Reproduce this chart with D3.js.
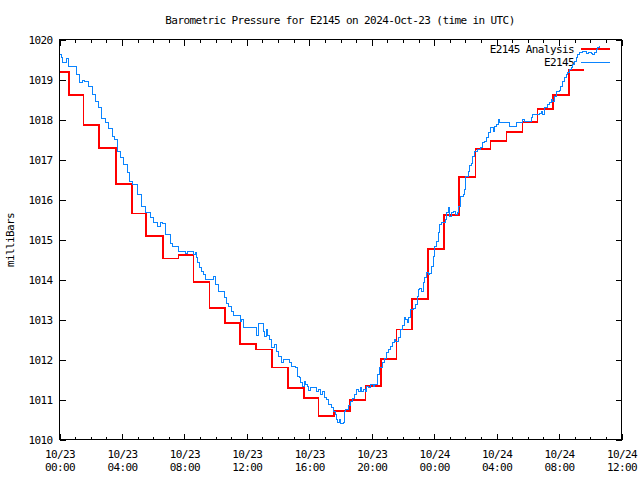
<!DOCTYPE html>
<html><head><meta charset="utf-8">
<script src="https://cdn.jsdelivr.net/npm/d3@7"></script>
<style>
html,body{margin:0;padding:0;background:#fff;}
text{font-family:"DejaVu Sans Mono",monospace;font-size:11px;letter-spacing:-0.6px;fill:#000;}
</style></head>
<body>
<svg id="chart" width="640" height="480"></svg>
<script>
// ---- data ----
const titleText = "Barometric Pressure for E2145 on 2024-Oct-23 (time in UTC)";
const yLabel = "milliBars";
const seriesNames = ["E2145 Analysis", "E2145"];
const yTicks = [1010,1011,1012,1013,1014,1015,1016,1017,1018,1019,1020];
const startTime = Date.UTC(2024, 9, 23, 0, 0);
const spanHours = 36;

// analysis (red step) : hours since start, value
const analysisHours = [0,0.59,1.53,2.54,3.60,4.65,5.54,6.63,7.63,8.59,9.61,10.60,11.55,12.58,13.60,14.64,15.65,16.58,17.60,18.59,19.59,20.61,21.58,22.59,23.61,24.64,25.60,26.64,27.60,28.63,29.65,30.61,31.61,32.63,33.59];
const analysisValues = [1019.19,1018.62,1017.87,1017.29,1016.39,1015.65,1015.09,1014.53,1014.62,1013.94,1013.29,1012.92,1012.39,1012.25,1011.80,1011.29,1011.04,1010.59,1010.72,1010.99,1011.34,1012.02,1012.75,1013.52,1014.77,1015.62,1016.57,1017.27,1017.47,1017.69,1017.94,1018.26,1018.62,1019.24,1019.24];

// observations (blue)
const obsHours = [0.03,0.10,0.21,0.35,0.43,0.55,0.95,1.10,1.25,1.30,1.45,1.60,1.88,2.09,2.30,2.51,2.69,2.94,3.15,3.37,3.54,3.69,3.90,4.11,4.33,4.48,4.65,4.97,5.24,5.50,5.82,6.03,6.25,6.46,6.61,6.82,7.10,7.27,7.63,8.06,8.18,8.48,8.60,8.70,8.76,8.84,8.97,9.12,9.23,9.34,9.76,9.87,9.97,10.19,10.40,10.55,10.68,10.83,11.00,11.14,11.46,11.57,11.68,11.78,12.53,12.64,12.74,12.96,13.06,13.13,13.24,13.32,13.45,13.60,13.75,13.87,14.02,14.19,14.34,14.56,14.73,14.88,15.09,15.26,15.36,15.45,15.56,15.68,15.77,15.87,15.98,16.11,16.37,16.48,16.58,16.69,16.75,16.86,16.96,17.12,17.26,17.44,17.54,17.65,17.76,17.82,17.92,18.03,18.18,18.24,18.33,18.50,18.63,18.78,18.88,19.03,19.14,19.25,19.35,19.46,19.57,19.68,19.78,19.95,20.10,20.20,20.38,20.52,20.67,20.80,20.95,21.10,21.23,21.31,21.44,21.55,21.74,21.87,21.95,22.07,22.19,22.29,22.38,22.51,22.65,22.81,22.91,22.97,23.08,23.19,23.30,23.40,23.51,23.61,23.72,23.83,23.93,24.04,24.15,24.25,24.32,24.47,24.64,24.72,24.79,24.89,25.00,25.11,25.21,25.36,25.47,25.58,25.66,25.85,25.92,26.02,26.17,26.28,26.39,26.45,26.60,26.77,26.98,27.07,27.24,27.35,27.45,27.60,27.72,27.79,27.88,27.99,28.09,28.20,28.73,28.84,29.16,29.27,29.58,29.69,29.80,30.12,30.23,30.33,30.54,30.76,30.86,30.97,31.07,31.29,31.39,31.50,31.60,31.71,31.82,32.03,32.10,32.24,32.35,32.46,32.56,32.67,32.78,32.88,32.99,33.10,33.20,33.31,33.42,33.52,33.69,33.78,33.91,34.06,34.16,34.27,34.38,34.48,34.59];
const obsValues = [1019.62,1019.54,1019.43,1019.43,1019.52,1019.32,1019.32,1019.12,1019.12,1018.93,1018.97,1018.95,1018.83,1018.62,1018.46,1018.29,1018.02,1017.92,1017.77,1017.58,1017.50,1017.21,1017.04,1016.88,1016.67,1016.46,1016.38,1016.13,1015.83,1015.67,1015.54,1015.42,1015.33,1015.43,1015.40,1015.13,1014.90,1014.82,1014.69,1014.66,1014.69,1014.69,1014.62,1014.67,1014.54,1014.42,1014.29,1014.21,1014.13,1014.00,1014.00,1014.08,1013.88,1013.71,1013.71,1013.54,1013.40,1013.33,1013.21,1013.10,1013.10,1012.96,1013.00,1012.79,1012.79,1012.60,1012.89,1012.89,1012.71,1012.58,1012.75,1012.60,1012.50,1012.29,1012.37,1012.21,1012.07,1011.92,1012.00,1012.00,1011.92,1011.82,1011.79,1011.58,1011.55,1011.42,1011.33,1011.46,1011.38,1011.33,1011.23,1011.29,1011.29,1011.21,1011.25,1011.21,1011.13,1011.21,1011.04,1011.00,1010.88,1010.79,1010.71,1010.62,1010.50,1010.42,1010.50,1010.40,1010.42,1010.71,1010.75,1010.85,1010.96,1011.02,1011.13,1011.25,1011.21,1011.29,1011.21,1011.25,1011.21,1011.33,1011.29,1011.38,1011.33,1011.38,1011.63,1011.79,1011.92,1012.02,1012.17,1012.25,1012.33,1012.42,1012.50,1012.45,1012.55,1012.75,1012.85,1013.04,1013.00,1012.92,1013.05,1013.25,1013.28,1013.38,1013.58,1013.75,1013.77,1013.71,1013.92,1014.04,1014.17,1014.13,1014.15,1014.33,1014.58,1014.83,1014.96,1015.17,1015.38,1015.42,1015.42,1015.50,1015.67,1015.79,1015.58,1015.67,1015.71,1015.63,1015.67,1015.83,1016.08,1016.13,1016.25,1016.58,1016.71,1016.85,1016.90,1017.08,1017.21,1017.25,1017.29,1017.42,1017.46,1017.54,1017.67,1017.79,1017.79,1017.71,1017.83,1017.88,1018.00,1017.92,1017.92,1017.82,1017.82,1017.92,1017.92,1018.00,1017.94,1017.96,1018.04,1018.13,1018.13,1018.15,1018.20,1018.13,1018.29,1018.38,1018.42,1018.50,1018.46,1018.58,1018.71,1018.73,1018.83,1018.96,1019.04,1019.13,1019.17,1019.25,1019.29,1019.38,1019.46,1019.54,1019.63,1019.67,1019.68,1019.71,1019.71,1019.65,1019.67,1019.65,1019.63,1019.67,1019.75,1019.79,1019.83];

// ---- drawing ----
const HOUR = 3600000;
const svg = d3.select("#chart");
const L = 59.5, R = 621.5, T = 39.5, B = 439.5;
const x = d3.scaleUtc().domain([new Date(startTime), new Date(startTime + spanHours*HOUR)]).range([L, R]);
const y = d3.scaleLinear().domain([1010, 1020]).range([B, T]);

const analysis = analysisHours.map((h,i)=>({t:new Date(startTime+h*HOUR), v:analysisValues[i]}));
const obs = obsHours.map((h,i)=>({t:new Date(startTime+h*HOUR), v:obsValues[i]}));

// title
svg.append("text").attr("x", 340).attr("y", 24).attr("text-anchor","middle").text(titleText);
// y label
svg.append("text").attr("transform","translate(14,240) rotate(-90)").attr("text-anchor","middle").text(yLabel);

const minorTicks = d3.utcHour.every(1).range(x.domain()[0], new Date(+x.domain()[1]+1));
const majorTicks = d3.utcHour.every(4).range(x.domain()[0], new Date(+x.domain()[1]+1));

function clean(g){ g.select(".domain").remove(); g.selectAll("line").attr("stroke","#000").attr("shape-rendering","crispEdges"); }

// bottom axis minor & major
svg.append("g").attr("transform",`translate(0,${B})`)
  .call(d3.axisBottom(x).tickValues(minorTicks).tickSize(-3).tickFormat(""))
  .call(clean);
const bMaj = svg.append("g").attr("transform",`translate(0,${B})`)
  .call(d3.axisBottom(x).tickValues(majorTicks).tickSize(-6).tickFormat(d3.utcFormat("%m/%d")))
  .call(clean);
bMaj.selectAll("text").attr("font-family",null).attr("font-size",null)
  .each(function(d){
    const t = d3.select(this).text("").attr("y", 18).attr("dy", null);
    t.append("tspan").attr("x",0).attr("y",18).text(d3.utcFormat("%m/%d")(d));
    t.append("tspan").attr("x",0).attr("y",31).text(d3.utcFormat("%H:%M")(d));
  });
// top axis
svg.append("g").attr("transform",`translate(0,${T})`)
  .call(d3.axisTop(x).tickValues(minorTicks).tickSize(-3).tickFormat("")).call(clean);
svg.append("g").attr("transform",`translate(0,${T})`)
  .call(d3.axisTop(x).tickValues(majorTicks).tickSize(-6).tickFormat("")).call(clean);
// left axis
const lAx = svg.append("g").attr("transform",`translate(${L},0)`)
  .call(d3.axisLeft(y).tickValues(yTicks).tickSize(-6).tickPadding(7).tickFormat(d3.format("d")))
  .call(clean);
lAx.selectAll("text").attr("font-family",null).attr("font-size",null);
// right axis
svg.append("g").attr("transform",`translate(${R},0)`)
  .call(d3.axisRight(y).tickValues(yTicks).tickSize(-6).tickFormat("")).call(clean);

// border
svg.append("rect").attr("x",L).attr("y",T).attr("width",R-L).attr("height",B-T)
  .attr("fill","none").attr("stroke","#000").attr("shape-rendering","crispEdges");

// legend
const colors = ["#ff0000", "#0a84ff"];
const widths = [1.6, 1];
const legY = [49, 62];
seriesNames.forEach((n,i)=>{
  svg.append("text").attr("x",574).attr("y",legY[i]+4).attr("text-anchor","end").text(n);
  svg.append("line").attr("x1",581).attr("x2",610).attr("y1",legY[i]).attr("y2",legY[i])
    .attr("stroke",colors[i]).attr("stroke-width", widths[i]).attr("shape-rendering","crispEdges");
});

// lines
svg.append("path").datum(analysis)
  .attr("d", d3.line().x(d=>x(d.t)).y(d=>y(d.v)).curve(d3.curveStepAfter))
  .attr("fill","none").attr("stroke",colors[0]).attr("stroke-width",widths[0]).attr("shape-rendering","crispEdges");
svg.append("path").datum(obs)
  .attr("d", d3.line().x(d=>x(d.t)).y(d=>y(d.v)).curve(d3.curveStepAfter))
  .attr("fill","none").attr("stroke",colors[1]).attr("stroke-width",widths[1]).attr("shape-rendering","crispEdges");
</script>
</body></html>
